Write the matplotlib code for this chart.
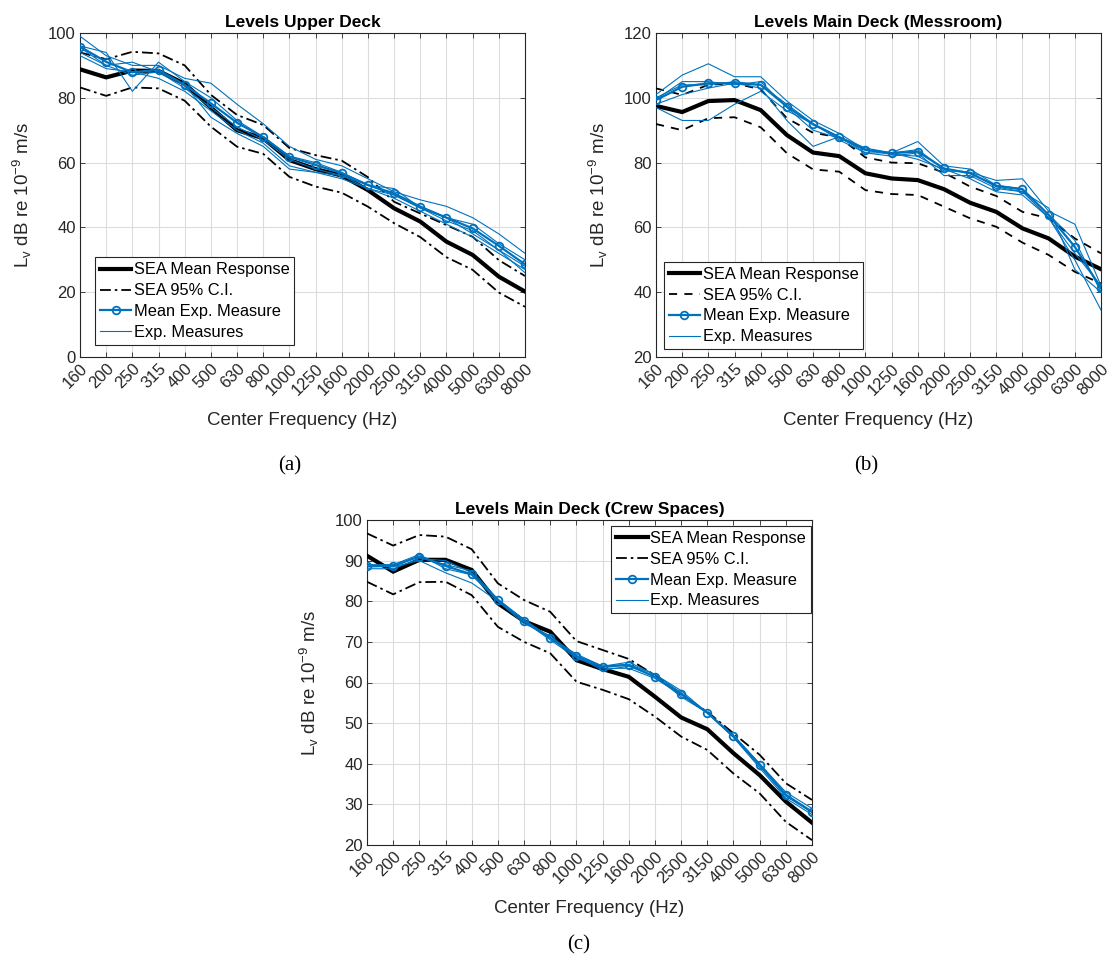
import matplotlib
matplotlib.use("Agg")
import matplotlib.pyplot as plt
import numpy as np

plt.rcParams['font.family'] = ['Liberation Sans', 'DejaVu Sans']
plt.rcParams['mathtext.fontset'] = 'custom'
plt.rcParams['mathtext.rm'] = 'Liberation Sans'
plt.rcParams['mathtext.default'] = 'regular'

# One-third octave band centre frequencies (Hz)
freq_labels = ['160', '200', '250', '315', '400', '500', '630', '800', '1000',
               '1250', '1600', '2000', '2500', '3150', '4000', '5000', '6300', '8000']

# ---- Upper deck ----
upper_sea_mean = [88.8, 86.3, 88.4, 88.3, 84.3, 77.0, 70.0, 67.5, 60.8,
                  58.0, 56.0, 51.5, 45.9, 41.8, 35.6, 31.5, 24.8, 20.2]
upper_ci_hi = [94.0, 91.9, 94.2, 93.7, 90.0, 80.9, 74.7, 71.6, 64.5,
               62.3, 60.6, 55.5, 47.9, 44.3, 40.7, 37.1, 29.9, 25.0]
upper_ci_lo = [83.2, 80.6, 83.2, 82.9, 79.1, 71.1, 64.9, 62.7, 55.6,
               52.6, 50.7, 46.4, 41.3, 37.0, 30.8, 26.9, 19.9, 15.5]
upper_exp_mean = [95.8, 91.1, 87.9, 88.6, 84.0, 78.3, 72.3, 67.8, 61.8,
                  59.3, 56.7, 53.1, 50.5, 46.4, 43.0, 39.7, 34.3, 28.6]
upper_exp_1 = [99.0, 93.0, 90.0, 90.0, 86.0, 84.5, 78.0, 72.0, 65.0,
               61.0, 59.0, 55.0, 51.0, 48.5, 46.5, 43.0, 38.0, 32.0]
upper_exp_2 = [96.0, 94.0, 82.0, 91.0, 85.0, 80.0, 73.0, 68.0, 62.0,
               60.0, 57.0, 53.0, 50.0, 46.0, 43.0, 41.0, 35.0, 30.0]
upper_exp_3 = [94.0, 90.0, 87.0, 88.0, 83.0, 77.0, 71.0, 67.0, 61.0,
               58.0, 56.0, 52.0, 50.0, 46.0, 42.0, 39.0, 33.0, 28.0]
upper_exp_4 = [93.0, 89.0, 88.0, 86.0, 82.0, 76.0, 70.0, 66.0, 59.0,
               57.0, 55.0, 52.0, 49.0, 45.0, 41.0, 37.0, 32.0, 27.0]
upper_exp_5 = [95.5, 90.0, 91.0, 88.0, 84.0, 74.0, 69.0, 65.0, 58.0,
               57.0, 56.0, 53.0, 52.0, 46.0, 43.0, 38.0, 33.0, 26.0]

# ---- Main deck, messroom ----
mess_sea_mean = [97.5, 95.6, 99.0, 99.3, 96.2, 88.5, 83.1, 82.0, 76.7,
                 75.1, 74.6, 71.8, 67.6, 64.8, 59.7, 56.6, 51.0, 47.1]
mess_ci_hi = [102.9, 100.9, 104.0, 104.5, 102.6, 93.7, 89.2, 87.8, 81.6,
              80.0, 79.8, 76.9, 72.6, 69.7, 64.8, 62.8, 56.6, 52.0]
mess_ci_lo = [91.9, 90.0, 93.7, 94.0, 90.9, 82.9, 77.9, 77.2, 71.5,
              70.3, 70.0, 66.4, 62.8, 60.2, 55.3, 51.5, 46.3, 42.7]
mess_exp_mean = [99.3, 103.4, 104.5, 104.5, 104.0, 97.3, 91.8, 87.8, 83.9,
                 82.9, 83.4, 78.2, 76.7, 72.8, 71.7, 63.8, 54.0, 41.2]
mess_exp_1 = [101.0, 107.0, 110.5, 106.5, 106.5, 99.0, 93.0, 89.0, 84.0,
              83.0, 84.0, 78.0, 77.0, 74.5, 75.0, 65.0, 61.0, 42.0]
mess_exp_2 = [100.0, 104.0, 104.0, 105.0, 104.0, 98.0, 92.0, 88.0, 84.5,
              83.0, 86.5, 79.0, 78.0, 73.0, 72.0, 64.0, 56.0, 40.0]
mess_exp_3 = [98.0, 101.0, 103.0, 104.5, 103.0, 93.0, 85.0, 88.0, 83.0,
              82.0, 83.0, 76.0, 76.0, 72.0, 71.0, 63.0, 52.0, 42.0]
mess_exp_4 = [97.0, 93.0, 93.0, 98.0, 102.0, 96.0, 92.0, 87.0, 83.0,
              83.0, 81.0, 78.0, 75.0, 71.0, 70.0, 63.0, 50.0, 34.5]
mess_exp_5 = [99.5, 105.0, 105.0, 104.0, 105.0, 97.0, 90.0, 87.5, 84.0,
              82.5, 82.0, 77.5, 77.0, 72.5, 71.0, 66.0, 47.0, 40.0]

# ---- Main deck, crew spaces ----
crew_sea_mean = [91.2, 87.3, 90.2, 90.2, 87.7, 79.5, 75.1, 72.5, 65.5,
                 63.3, 61.4, 56.5, 51.4, 48.5, 42.6, 37.2, 30.7, 25.5]
crew_ci_hi = [96.7, 93.7, 96.3, 95.9, 92.8, 84.4, 80.3, 77.4, 70.2,
              68.0, 65.8, 61.8, 56.9, 52.8, 47.5, 42.2, 35.2, 31.1]
crew_ci_lo = [84.8, 81.7, 84.7, 84.8, 81.5, 73.7, 70.0, 67.2, 60.2,
              58.2, 55.9, 51.6, 46.7, 43.4, 37.6, 32.7, 25.7, 21.2]
crew_exp_mean = [88.6, 88.8, 91.0, 88.7, 86.6, 80.3, 75.1, 71.0, 66.5,
                 63.9, 64.3, 61.4, 57.2, 52.6, 46.8, 39.7, 32.3, 28.2]
crew_exp_1 = [88.0, 88.0, 90.5, 90.0, 87.0, 80.0, 75.5, 71.0, 67.0,
              64.0, 64.5, 62.0, 58.0, 52.5, 47.0, 40.0, 33.0, 29.0]
crew_exp_2 = [89.0, 89.0, 91.5, 88.0, 86.5, 80.5, 75.0, 70.5, 66.0,
              63.5, 63.5, 61.0, 57.0, 52.5, 46.5, 39.5, 32.0, 28.0]
crew_exp_3 = [88.5, 88.5, 90.0, 87.0, 84.5, 80.0, 74.5, 71.5, 66.5,
              63.0, 64.0, 61.5, 56.5, 52.5, 46.5, 39.0, 31.5, 27.5]
crew_exp_4 = [89.0, 88.5, 91.0, 89.0, 87.5, 80.5, 75.5, 71.0, 66.5,
              64.0, 65.0, 62.0, 57.5, 52.5, 47.0, 40.0, 32.5, 28.0]

BLUE = '#0072BD'
AX_COLOR = '#262626'
DASHDOT = (0, (6, 2.2, 1.4, 2.2))
DASHED = (0, (4.5, 4.0))


def draw_panel(ax, title, sea_mean, ci_hi, ci_lo, exp_mean, exp_runs,
               ci_style, ylim, yticks, legend_loc, legend_anchor):
    x = np.arange(len(freq_labels))
    ax.plot(x, sea_mean, color='black', lw=3.0, label='SEA Mean Response',
            solid_joinstyle='miter', zorder=3)
    ax.plot(x, ci_hi, color='black', lw=1.3, linestyle=ci_style,
            label='SEA 95% C.I.', zorder=3)
    ax.plot(x, ci_lo, color='black', lw=1.3, linestyle=ci_style, zorder=3)
    ax.plot(x, exp_mean, color=BLUE, lw=1.6, marker='o', ms=5.5,
            mfc='none', mec=BLUE, mew=1.3, label='Mean Exp. Measure', zorder=5)
    for i, run in enumerate(exp_runs):
        ax.plot(x, run, color=BLUE, lw=0.8,
                label='Exp. Measures' if i == 0 else None, zorder=4)

    ax.set_xlim(0, len(freq_labels) - 1)
    ax.set_ylim(*ylim)
    ax.set_yticks(yticks)
    ax.set_xticks(x)
    ax.set_xticklabels(freq_labels, rotation=45, ha='right', va='top',
                       rotation_mode='anchor')
    ax.tick_params(direction='in', top=True, right=True, length=3.6,
                   width=0.6, colors=AX_COLOR, labelsize=12, pad=3)
    for sp in ax.spines.values():
        sp.set_color(AX_COLOR)
        sp.set_linewidth(0.8)
    ax.grid(True, color='#dcdcdc', lw=0.8)
    ax.set_axisbelow(True)
    ax.set_title(title, fontsize=12.5, fontweight='bold', color='black', pad=4)
    ax.set_xlabel('Center Frequency (Hz)', fontsize=13.5, color=AX_COLOR,
                  labelpad=10)
    ax.set_ylabel('L$_v$ dB re 10$^{-9}$ m/s', fontsize=13.5, color=AX_COLOR,
                  labelpad=10)
    leg = ax.legend(loc=legend_loc, bbox_to_anchor=legend_anchor,
                    borderaxespad=0, fontsize=11.8, handlelength=1.9,
                    handletextpad=0.15, labelspacing=0.36, borderpad=0.3,
                    fancybox=False, framealpha=1, edgecolor=AX_COLOR)
    leg.get_frame().set_linewidth(0.8)


fig = plt.figure(figsize=(11.17, 9.67), dpi=100)

W, H = 1117.0, 967.0
ax_a = fig.add_axes([80 / W, 1 - 357 / H, 445 / W, 324 / H])
ax_b = fig.add_axes([656 / W, 1 - 357 / H, 445 / W, 324 / H])
ax_c = fig.add_axes([367 / W, 1 - 845 / H, 445 / W, 325 / H])

draw_panel(ax_a, 'Levels Upper Deck', upper_sea_mean, upper_ci_hi, upper_ci_lo,
           upper_exp_mean,
           [upper_exp_1, upper_exp_2, upper_exp_3, upper_exp_4, upper_exp_5],
           DASHDOT, (0, 100), np.arange(0, 101, 20), 'lower left', (0.034, 0.037))
draw_panel(ax_b, 'Levels Main Deck (Messroom)', mess_sea_mean, mess_ci_hi,
           mess_ci_lo, mess_exp_mean,
           [mess_exp_1, mess_exp_2, mess_exp_3, mess_exp_4, mess_exp_5],
           DASHED, (20, 120), np.arange(20, 121, 20), 'lower left', (0.018, 0.024))
draw_panel(ax_c, 'Levels Main Deck (Crew Spaces)', crew_sea_mean, crew_ci_hi,
           crew_ci_lo, crew_exp_mean,
           [crew_exp_1, crew_exp_2, crew_exp_3, crew_exp_4],
           DASHDOT, (20, 100), np.arange(20, 101, 10), 'upper right', (0.997, 0.982))

cap_font = dict(family=['Liberation Serif', 'DejaVu Serif'], fontsize=15,
                ha='center', va='center', color='black')
fig.text(290 / W, 1 - 466 / H, '(a)', **cap_font)
fig.text(866 / W, 1 - 466 / H, '(b)', **cap_font)
fig.text(579 / W, 1 - 945 / H, '(c)', **cap_font)

fig.savefig('out.png', dpi=100, facecolor='white')
